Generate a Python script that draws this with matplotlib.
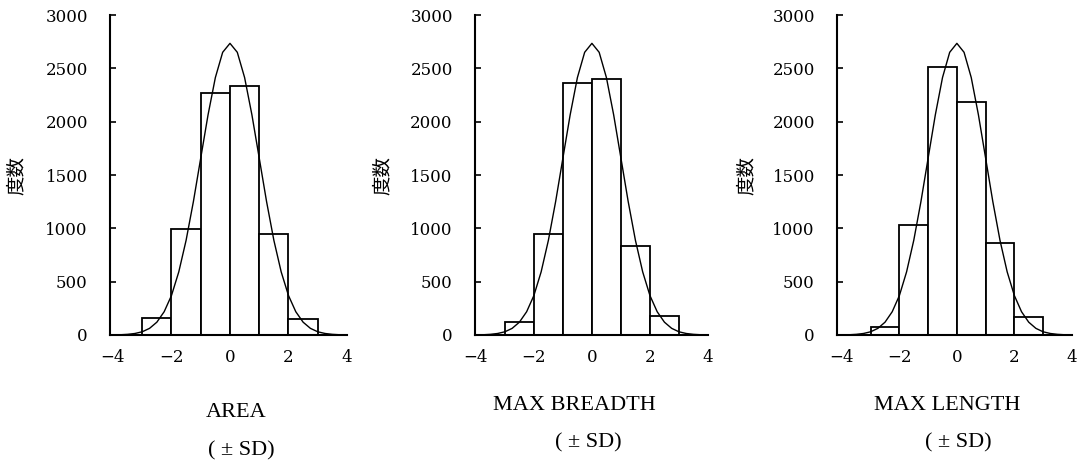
import matplotlib
matplotlib.use("Agg")
import matplotlib.pyplot as plt

# histogram bins (in SD units) and counts
bin_left = [-3, -2, -1, 0, 1, 2]
area_counts = [156, 997, 2272, 2334, 950, 150]
breadth_counts = [119, 949, 2364, 2396, 839, 175]
length_counts = [72, 1027, 2511, 2183, 861, 172]

curve_x = [-3.75, -3.5, -3.25, -3.0, -2.75, -2.5, -2.25, -2.0, -1.75, -1.5,
           -1.25, -1.0, -0.75, -0.5, -0.25, 0.0, 0.25, 0.5, 0.75, 1.0, 1.25,
           1.5, 1.75, 2.0, 2.25, 2.5, 2.75, 3.0, 3.25, 3.5, 3.75]
curve_y = [2, 6, 14, 30, 62, 120, 218, 370, 592, 888, 1252, 1659, 2064,
           2414, 2651, 2735, 2651, 2414, 2064, 1659, 1252, 888, 592, 370,
           218, 120, 62, 30, 14, 6, 2]

titles = ["AREA", "MAX BREADTH", "MAX LENGTH"]
yticks = [0, 500, 1000, 1500, 2000, 2500, 3000]
xticks = [-4, -2, 0, 2, 4]

TICKFONT = ["DejaVu Serif"]
SERIF = ["Liberation Serif", "DejaVu Serif"]
CJK = ["Noto Sans CJK JP", "DejaVu Sans"]

# axes boxes in figure fraction: left, bottom, width, height
boxes = [
    (0.1017, 0.2827, 0.2190, 0.685),
    (0.4390, 0.2827, 0.2153, 0.685),
    (0.7736, 0.2827, 0.2170, 0.685),
]
xlims = [(-4.10, 4.0), (-4.03, 4.0), (-4.17, 4.0)]
ylabel_x = [-0.35, -0.355, -0.34]
# (title x, title y, sd x, sd y) in figure fraction
label_pos = [
    (0.218, 0.116, 0.223, 0.035),
    (0.531, 0.131, 0.544, 0.051),
    (0.875, 0.131, 0.886, 0.051),
]

fig = plt.figure(figsize=(10.82, 4.67), dpi=100)

for i, counts in enumerate([area_counts, breadth_counts, length_counts]):
    ax = fig.add_axes(boxes[i])
    ax.bar(bin_left, counts, width=1.0, align="edge", facecolor="white",
           edgecolor="black", linewidth=1.3, zorder=2)
    ax.plot(curve_x, curve_y, color="black", linewidth=1.0, zorder=3)

    ax.set_xlim(*xlims[i])
    ax.set_ylim(0, 3000)
    ax.set_xticks(xticks)
    ax.set_yticks(yticks)
    ax.set_xticklabels([str(t).replace("-", "\u2212") for t in xticks],
                       family=TICKFONT, fontsize=12)
    ax.set_yticklabels([str(t) for t in yticks], family=TICKFONT, fontsize=12)
    ax.tick_params(axis="x", length=0, pad=10)
    ax.tick_params(axis="y", direction="in", length=4, width=1.2, pad=16)
    for side in ("top", "right"):
        ax.spines[side].set_visible(False)
    for side in ("left", "bottom"):
        ax.spines[side].set_linewidth(1.5)
    ax.set_ylabel("度数", family=CJK, fontsize=14)
    ax.yaxis.set_label_coords(ylabel_x[i], 0.5)

    tx, ty, sx, sy = label_pos[i]
    fig.text(tx, ty, titles[i], ha="center", va="center", family=SERIF, fontsize=16)
    fig.text(sx, sy, "( \u00b1 SD)", ha="center", va="center", family=SERIF, fontsize=16)

fig.savefig("out.png", dpi=100, facecolor="white")
